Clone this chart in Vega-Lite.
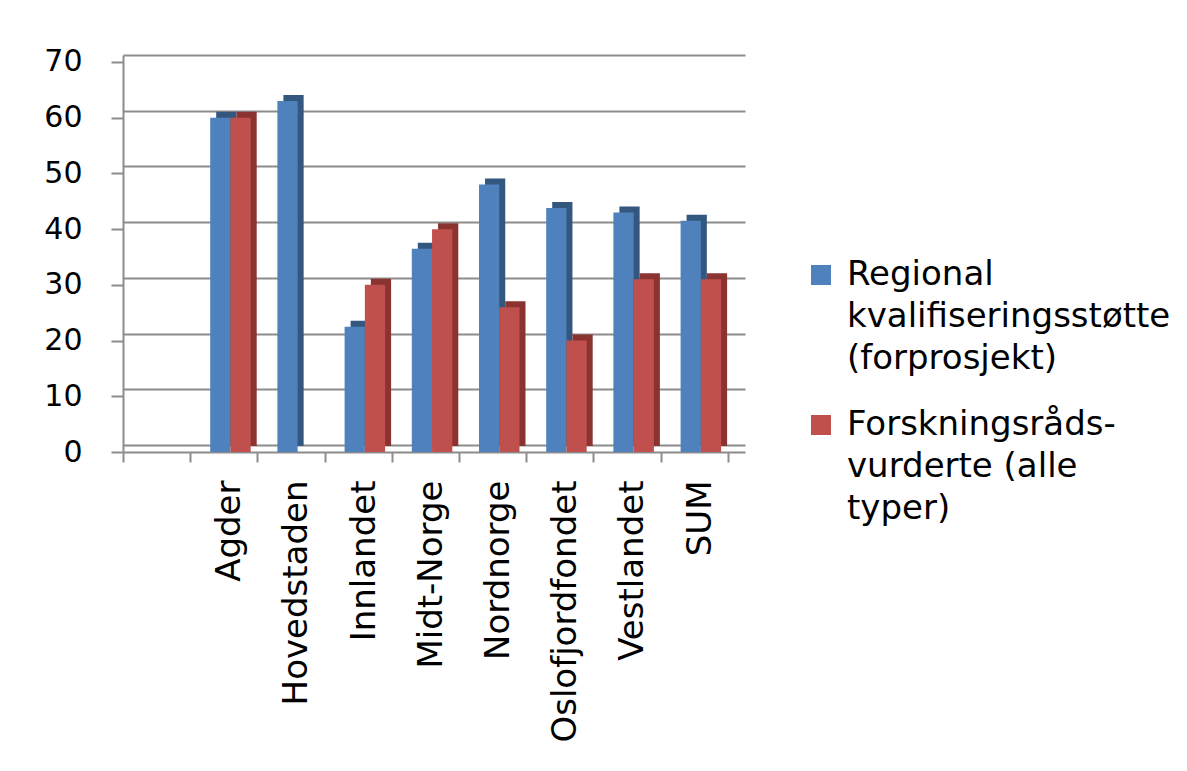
{
  "$schema": "https://vega.github.io/schema/vega-lite/v6.json",
  "width": 622,
  "height": 397,
  "autosize": "none",
  "padding": {"left": 123, "top": 55, "right": 442, "bottom": 319},
  "background": "white",
  "config": {
    "view": {"stroke": null},
    "font": "DejaVu Sans",
    "style": {"guide-label": {"lineHeight": 42}}
  },
  "data": {"values": [
    {"region": "Agder", "serie": "Regional kvalifiseringsstøtte (forprosjekt)", "verdi": 60},
    {"region": "Agder", "serie": "Forskningsrådsvurderte (alle typer)", "verdi": 60},
    {"region": "Hovedstaden", "serie": "Regional kvalifiseringsstøtte (forprosjekt)", "verdi": 63},
    {"region": "Hovedstaden", "serie": "Forskningsrådsvurderte (alle typer)", "verdi": 0},
    {"region": "Innlandet", "serie": "Regional kvalifiseringsstøtte (forprosjekt)", "verdi": 22.5},
    {"region": "Innlandet", "serie": "Forskningsrådsvurderte (alle typer)", "verdi": 30},
    {"region": "Midt-Norge", "serie": "Regional kvalifiseringsstøtte (forprosjekt)", "verdi": 36.5},
    {"region": "Midt-Norge", "serie": "Forskningsrådsvurderte (alle typer)", "verdi": 40},
    {"region": "Nordnorge", "serie": "Regional kvalifiseringsstøtte (forprosjekt)", "verdi": 48},
    {"region": "Nordnorge", "serie": "Forskningsrådsvurderte (alle typer)", "verdi": 26},
    {"region": "Oslofjordfondet", "serie": "Regional kvalifiseringsstøtte (forprosjekt)", "verdi": 43.8},
    {"region": "Oslofjordfondet", "serie": "Forskningsrådsvurderte (alle typer)", "verdi": 20},
    {"region": "Vestlandet", "serie": "Regional kvalifiseringsstøtte (forprosjekt)", "verdi": 43},
    {"region": "Vestlandet", "serie": "Forskningsrådsvurderte (alle typer)", "verdi": 31},
    {"region": "SUM", "serie": "Regional kvalifiseringsstøtte (forprosjekt)", "verdi": 41.5},
    {"region": "SUM", "serie": "Forskningsrådsvurderte (alle typer)", "verdi": 31}
  ]},
  "encoding": {
    "x": {
      "field": "region", "type": "nominal",
      "scale": {"domain": [" ", "Agder", "Hovedstaden", "Innlandet", "Midt-Norge", "Nordnorge", "Oslofjordfondet", "Vestlandet", "SUM"], "range": [0, 622], "paddingInner": 0, "paddingOuter": 0.128, "align": 0},
      "axis": {"title": null, "labelAngle": -90, "labelFontSize": 34, "labelColor": "#000", "labelPadding": 18, "labelLimit": 400, "labelOffset": 6, "domainColor": "#8c8c8c", "domainWidth": 2, "tickColor": "#8c8c8c", "tickWidth": 2, "tickSize": 10, "tickBand": "extent"}
    }
  },
  "layer": [
    {
      "mark": {"type": "bar", "opacity": 0},
      "encoding": {
        "xOffset": {"field": "serie", "type": "nominal", "sort": ["Regional kvalifiseringsstøtte (forprosjekt)", "Forskningsrådsvurderte (alle typer)"]},
        "y": {
          "field": "verdi", "type": "quantitative",
          "scale": {"domain": [-1.256, 70], "nice": false, "zero": false},
          "axis": {"title": null, "orient": "left", "values": [0,10,20,30,40,50,60,70], "labels": false, "ticks": false, "domain": false, "grid": true, "gridColor": "#8c8c8c", "gridWidth": 2}
        }
      }
    },
    {
      "mark": {"type": "bar", "yOffset": -6, "stroke": null},
      "encoding": {
        "xOffset": {"field": "serie", "type": "nominal", "sort": ["Regional kvalifiseringsstøtte (forprosjekt)", "Forskningsrådsvurderte (alle typer)"], "scale": {"range": [26, 66.5], "paddingInner": 0, "paddingOuter": 0}},
        "y": {"field": "verdi", "type": "quantitative", "scale": {"domain": [0, 71.256], "nice": false}, "axis": null},
        "fill": {
          "condition": {"test": "datum.serie == 'Regional kvalifiseringsstøtte (forprosjekt)'", "value": "#34577F"},
          "value": "#8A3330"
        }
      }
    },
    {
      "mark": {"type": "bar", "stroke": null},
      "encoding": {
        "xOffset": {"field": "serie", "type": "nominal", "sort": ["Regional kvalifiseringsstøtte (forprosjekt)", "Forskningsrådsvurderte (alle typer)"], "scale": {"range": [20, 60.5], "paddingInner": 0, "paddingOuter": 0}},
        "y": {
          "field": "verdi", "type": "quantitative",
          "scale": {"domain": [0, 71.256], "nice": false},
          "axis": {"title": null, "orient": "left", "values": [0,10,20,30,40,50,60,70], "grid": false, "labelFontSize": 30, "labelColor": "#000", "labelPadding": 29, "domainColor": "#8c8c8c", "domainWidth": 2, "tickColor": "#8c8c8c", "tickWidth": 2, "tickSize": 12}
        },
        "color": {
          "field": "serie", "type": "nominal",
          "sort": ["Regional kvalifiseringsstøtte (forprosjekt)", "Forskningsrådsvurderte (alle typer)"],
          "scale": {"range": ["#4F81BD", "#C0504D"]},
          "legend": {
            "title": null, "orient": "none", "legendX": 681, "legendY": 213,
            "symbolType": "M-1,-2H1V0H-1Z", "symbolSize": 400, "symbolStrokeWidth": 0, "symbolOpacity": 1,
            "labelFontSize": 34, "labelColor": "#000", "labelLimit": 500,
            "labelBaseline": "alphabetic", "labelOffset": 9, "rowPadding": 32,
            "labelExpr": "datum.label == 'Regional kvalifiseringsstøtte (forprosjekt)' ? ['Regional', 'kvalifiseringsstøtte', '(forprosjekt)'] : ['Forskningsråds-', 'vurderte (alle', 'typer)']"
          }
        }
      }
    }
  ],
  "resolve": {"scale": {"y": "independent", "xOffset": "independent"}, "axis": {"y": "independent"}}
}
